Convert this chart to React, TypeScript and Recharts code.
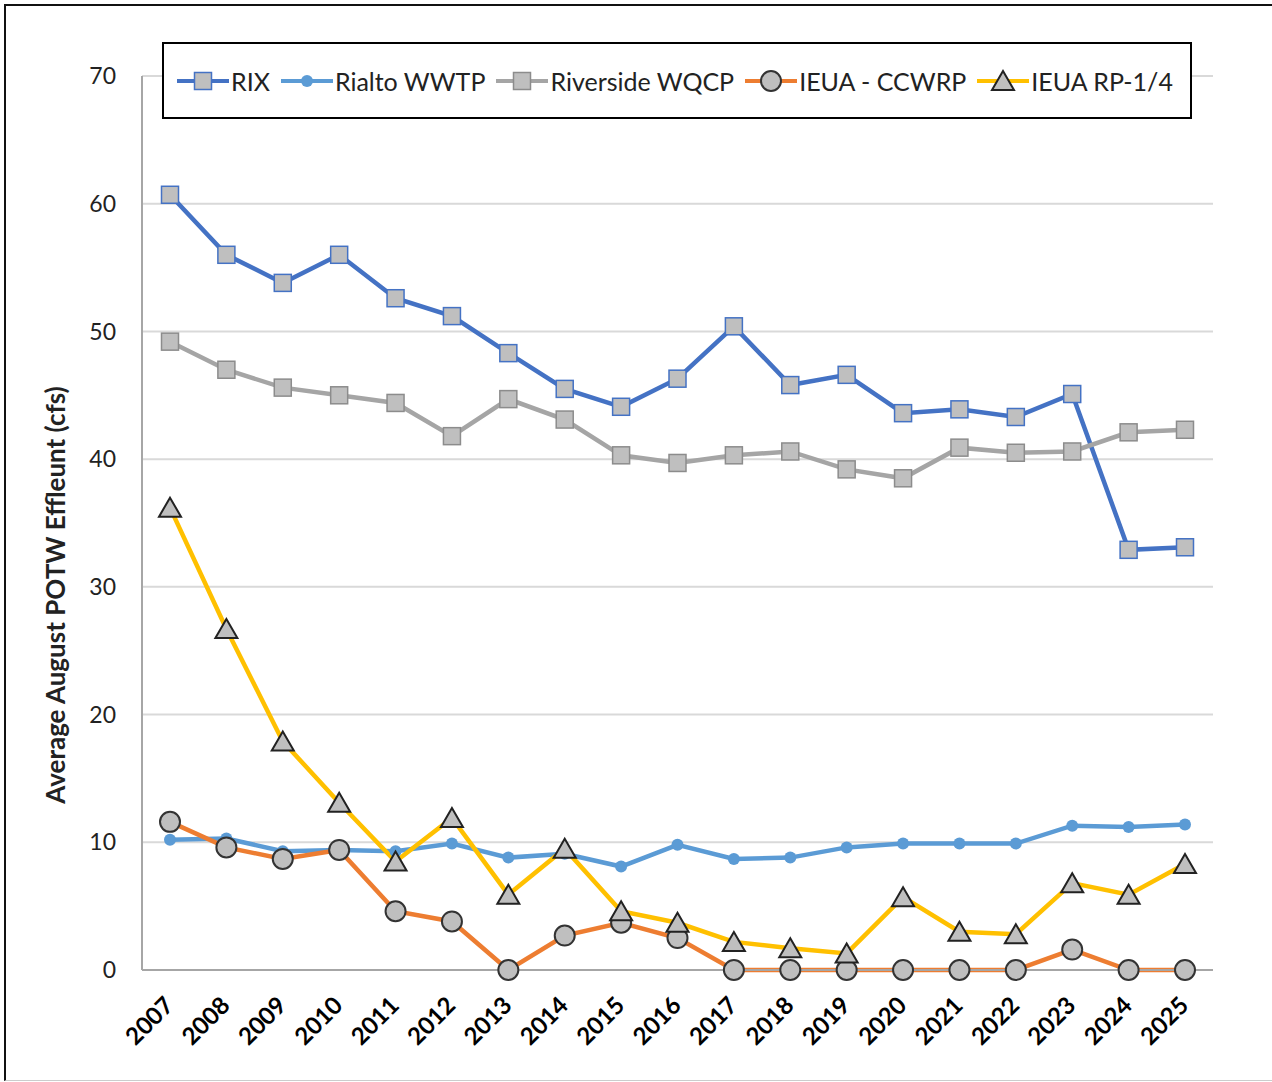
import React from "react";
import {
  LineChart, Line, XAxis, YAxis, CartesianGrid,
} from "recharts";

const years = [
  "2007", "2008", "2009", "2010", "2011", "2012", "2013", "2014", "2015", "2016",
  "2017", "2018", "2019", "2020", "2021", "2022", "2023", "2024", "2025",
];
const rix = [60.7, 56.0, 53.8, 56.0, 52.6, 51.2, 48.3, 45.5, 44.1, 46.3, 50.4, 45.8, 46.6, 43.6, 43.9, 43.3, 45.1, 32.9, 33.1];
const rialto = [10.2, 10.3, 9.3, 9.4, 9.3, 9.9, 8.8, 9.1, 8.1, 9.8, 8.7, 8.8, 9.6, 9.9, 9.9, 9.9, 11.3, 11.2, 11.4];
const riverside = [49.2, 47.0, 45.6, 45.0, 44.4, 41.8, 44.7, 43.1, 40.3, 39.7, 40.3, 40.6, 39.2, 38.5, 40.9, 40.5, 40.6, 42.1, 42.3];
const ccwrp = [11.6, 9.6, 8.7, 9.4, 4.6, 3.8, 0, 2.7, 3.7, 2.5, 0, 0, 0, 0, 0, 0, 1.6, 0, 0];
const rp14 = [36.2, 26.7, 17.9, 13.1, 8.5, 11.9, 5.9, 9.5, 4.6, 3.7, 2.2, 1.7, 1.3, 5.7, 3.0, 2.8, 6.8, 5.9, 8.3];
const yTicks = [0, 10, 20, 30, 40, 50, 60, 70];

const data = years.map((year, i) => ({
  year,
  rix: rix[i],
  rialto: rialto[i],
  riverside: riverside[i],
  ccwrp: ccwrp[i],
  rp14: rp14[i],
}));

const FONT = "Lato, 'Open Sans', sans-serif";
const MARKER_FILL = "#BFBFBF";
const FRAME = { stroke: "#A6A6A6", strokeWidth: 2 };

function Square({ cx, cy, stroke }: { cx: number; cy: number; stroke: string }) {
  return <rect x={cx - 8.5} y={cy - 8.5} width={17} height={17} fill={MARKER_FILL} stroke={stroke} strokeWidth={1.5} />;
}

function Dot({ cx, cy, fill }: { cx: number; cy: number; fill: string }) {
  return <circle cx={cx} cy={cy} r={6} fill={fill} />;
}

function Circle({ cx, cy }: { cx: number; cy: number }) {
  return <circle cx={cx} cy={cy} r={10} fill={MARKER_FILL} stroke="#333" strokeWidth={2} />;
}

function Triangle({ cx, cy }: { cx: number; cy: number }) {
  return (
    <path
      d={`M${cx},${cy - 10} L${cx + 11},${cy + 9} L${cx - 11},${cy + 9} Z`}
      fill={MARKER_FILL}
      stroke="#222"
      strokeWidth={2}
    />
  );
}

const series = [
  { key: "rix", name: "RIX", color: "#4472C4", marker: (cx: number, cy: number) => <Square cx={cx} cy={cy} stroke="#4472C4" /> },
  { key: "rialto", name: "Rialto WWTP", color: "#5B9BD5", marker: (cx: number, cy: number) => <Dot cx={cx} cy={cy} fill="#5B9BD5" /> },
  { key: "riverside", name: "Riverside WQCP", color: "#A5A5A5", marker: (cx: number, cy: number) => <Square cx={cx} cy={cy} stroke="#8C8C8C" /> },
  { key: "ccwrp", name: "IEUA - CCWRP", color: "#ED7D31", marker: (cx: number, cy: number) => <Circle cx={cx} cy={cy} /> },
  { key: "rp14", name: "IEUA RP-1/4", color: "#FFC000", marker: (cx: number, cy: number) => <Triangle cx={cx} cy={cy} /> },
];

// eslint-disable-next-line @typescript-eslint/no-explicit-any
function YearTick({ x, payload }: any) {
  return (
    <g transform={`translate(${x + 5},1007)`}>
      <text textAnchor="end" transform="rotate(-45)" fontSize={24} fontWeight="bold" fill="#000" fontFamily={FONT}>
        {payload.value}
      </text>
    </g>
  );
}

function LegendBox() {
  return (
    <div
      style={{
        position: "absolute", left: 162, top: 42, width: 1030, height: 77,
        border: "2px solid #000", background: "#fff", display: "flex",
        alignItems: "center", paddingLeft: 13, boxSizing: "border-box",
        fontFamily: FONT, fontSize: 25, color: "#222", gap: 11, whiteSpace: "nowrap",
      }}
    >
      {series.map((s) => (
        <div key={s.key} style={{ display: "flex", alignItems: "center", flexShrink: 0 }}>
          <svg width={52} height={26}>
            <line x1={0} y1={13} x2={52} y2={13} stroke={s.color} strokeWidth={4} />
            {s.marker(26, 13)}
          </svg>
          <span style={{ marginLeft: 2 }}>{s.name}</span>
        </div>
      ))}
    </div>
  );
}

export default function App() {
  return (
    <div style={{ position: "absolute", left: 0, top: 0, width: 1272, height: 1082, background: "#fff", overflow: "hidden" }}>
      <div style={{ position: "absolute", left: 4, top: 4, right: 0, bottom: 1, borderTop: "2px solid #111", borderLeft: "2px solid #111", borderBottom: "1px solid #ccc" }} />
      <div style={{ position: "absolute", left: 0, top: 0 }}>
        <LineChart width={1272} height={1082} data={data} margin={{ top: 76, right: 59, bottom: 12, left: 0 }}>
          <CartesianGrid vertical={false} stroke="#D9D9D9" strokeWidth={2} />
          <XAxis
            dataKey="year"
            height={100}
            padding={{ left: 28, right: 28 }}
            tickLine={false}
            tickSize={0}
            axisLine={FRAME}
            tick={<YearTick />}
            interval={0}
          />
          <XAxis xAxisId="top" dataKey="year" orientation="top" height={0} tick={false} tickLine={false} axisLine={FRAME} />
          <YAxis
            width={142}
            domain={[0, 70]}
            ticks={yTicks}
            tickLine={false}
            tickSize={0}
            tickMargin={26}
            axisLine={FRAME}
            tick={{ fill: "#222", fontSize: 23, fontFamily: FONT }}
          />
          <YAxis yAxisId="right" orientation="right" width={0} domain={[0, 70]} tick={false} tickLine={false} axisLine={FRAME} />
          {series.map((s) => (
            <Line
              key={s.key}
              dataKey={s.key}
              name={s.name}
              type="linear"
              stroke={s.color}
              strokeWidth={4.5}
              isAnimationActive={false}
              // eslint-disable-next-line @typescript-eslint/no-explicit-any
              dot={(p: any) => <g key={`${s.key}-${p.index}`}>{s.marker(p.cx, p.cy)}</g>}
              activeDot={false}
            />
          ))}
        </LineChart>
      </div>
      <LegendBox />
      <div
        style={{
          position: "absolute", left: 55, top: 595, transform: "translate(-50%, -50%) rotate(-90deg)",
          whiteSpace: "nowrap", fontFamily: FONT, fontSize: 26, fontWeight: "bold", color: "#222",
        }}
      >
        Average August POTW Effleunt (cfs)
      </div>
    </div>
  );
}
